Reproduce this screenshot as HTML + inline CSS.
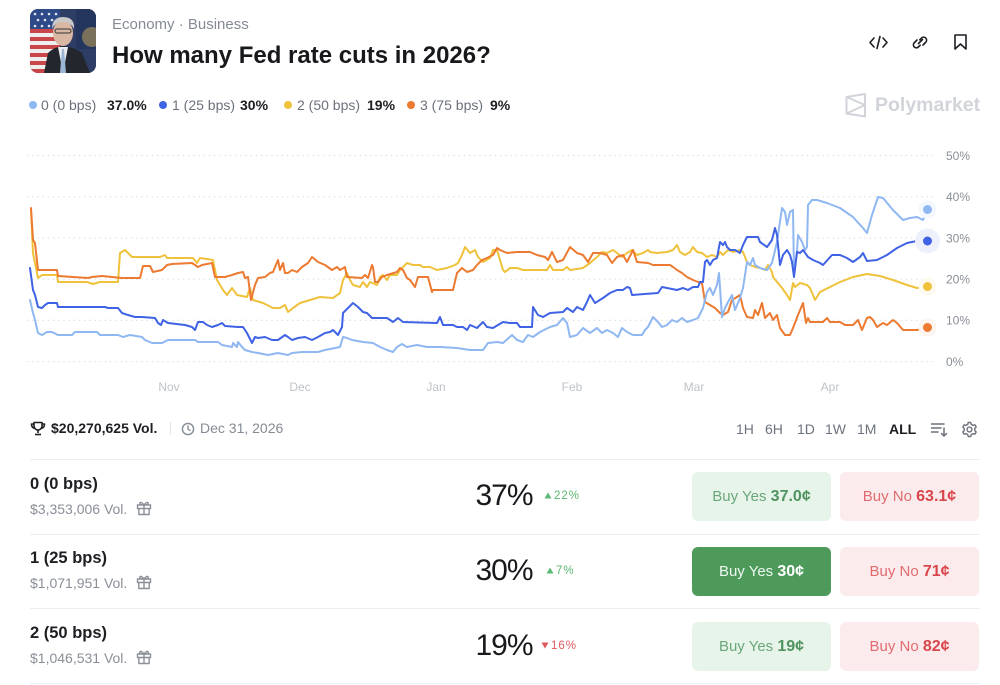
<!DOCTYPE html>
<html><head><meta charset="utf-8">
<style>
*{margin:0;padding:0;box-sizing:border-box}
body{width:1000px;height:685px;background:#fff;position:relative;overflow:hidden;font-family:"Liberation Sans",Arial,sans-serif;color:#1d1f23}
.a{position:absolute;white-space:nowrap}
.lg{font-size:14px;line-height:20px;top:95px;color:#6c727c}
.lv{font-size:14px;line-height:20px;top:95px;color:#1d1f23;font-weight:bold}
.dot{position:absolute;width:8px;height:8px;border-radius:50%;top:101px}
.tb{font-size:14px;line-height:20px;top:419px;color:#6c727c}
.sep{position:absolute;left:30px;width:950px;height:1px;background:#eceef1}
.rt{font-size:16.5px;line-height:22px;font-weight:bold;color:#1d1f23;left:30px}
.rv{font-size:14px;line-height:20px;color:#8a8f98;left:30px}
.rv svg{vertical-align:-2px;margin-left:9px}
.pc{font-size:30px;line-height:36px;color:#17191c;left:444px;width:120px;text-align:center;letter-spacing:-1px}
.ch{font-size:11.5px;line-height:16px;letter-spacing:1px}
.btn{position:absolute;width:139px;height:49px;border-radius:6px;text-align:center;line-height:49px;font-size:15px}
.btn b{font-size:16px}
.y{left:692px;background:#e7f4ea;color:#6aa77a}
.y b{color:#4f9360}
.ya{left:692px;background:#4d9a5b;color:#eef7f0}
.ya b{color:#fff}
.n{left:840px;background:#fcebec;color:#e06b70}
.n b{color:#d8464c}
</style></head><body>

<!-- avatar -->
<svg class="a" style="left:30px;top:9px" width="66" height="64" viewBox="0 0 66 64">
<defs><clipPath id="cp"><rect x="0" y="0" width="66" height="64" rx="8"/></clipPath></defs>
<g clip-path="url(#cp)">
<rect width="66" height="64" fill="#2d3d63"/>
<g fill="#c9474b"><rect x="0" y="20" width="30" height="4"/><rect x="0" y="28" width="30" height="4"/><rect x="0" y="36" width="30" height="4"/><rect x="0" y="44" width="30" height="4"/><rect x="0" y="52" width="30" height="4"/><rect x="0" y="60" width="30" height="4"/></g>
<g fill="#eee"><rect x="0" y="24" width="30" height="4"/><rect x="0" y="32" width="30" height="4"/><rect x="0" y="40" width="30" height="4"/><rect x="0" y="48" width="30" height="4"/><rect x="0" y="56" width="30" height="4"/></g>
<rect x="0" y="0" width="30" height="20" fill="#2f4a88"/>
<g fill="#dfe5f0"><circle cx="5" cy="5" r="1.3"/><circle cx="12" cy="5" r="1.3"/><circle cx="19" cy="5" r="1.3"/><circle cx="26" cy="5" r="1.3"/><circle cx="8" cy="11" r="1.3"/><circle cx="15" cy="11" r="1.3"/><circle cx="22" cy="11" r="1.3"/><circle cx="5" cy="17" r="1.3"/><circle cx="12" cy="17" r="1.3"/><circle cx="19" cy="17" r="1.3"/></g>
<rect x="46" y="0" width="20" height="40" fill="#24355e"/>
<circle cx="62" cy="28" r="10" fill="#b49a5a" opacity="0.6"/>
<path d="M14 64 L18 44 Q24 38 33 37 Q44 38 52 44 L60 64 Z" fill="#23262d"/>
<path d="M28 38 L33 64 L38 38 Z" fill="#e8ecf0"/>
<path d="M32 40 L30 64 L36 64 L34 40 Z" fill="#9bb6d4"/>
<ellipse cx="33" cy="24" rx="10" ry="13" fill="#d9b7a3"/>
<path d="M22 20 Q22 8 33 8 Q45 8 44 20 Q41 13 33 13 Q25 13 22 20 Z" fill="#c9c9c9"/>
<rect x="25" y="20" width="16" height="4" rx="2" fill="none" stroke="#333" stroke-width="1"/>
</g></svg>

<div class="a" style="left:112px;top:15px;font-size:15px;line-height:20px;color:#858b94">Economy · Business</div>
<div class="a" style="left:112px;top:41px;font-size:24px;line-height:30px;font-weight:bold;color:#16181b">How many Fed rate cuts in 2026?</div>

<!-- top icons -->
<svg class="a" style="left:860px;top:28px" width="120" height="30" viewBox="860 28 120 30">
<g fill="none" stroke="#1d1f23" stroke-width="1.6" stroke-linecap="round" stroke-linejoin="round">
<path d="M874 38 L870 42.5 L874 47"/><path d="M883 38 L887 42.5 L883 47"/><path d="M880 36.5 L877 48.5"/>
<path d="M917 40 l-3 3 a3 3 0 0 0 4.2 4.2 l2-2"/><path d="M923 45 l3-3 a3 3 0 0 0 -4.2 -4.2 l-2 2"/><path d="M918.5 43.5 l4-4" />
<path d="M955 35 H966 V49 L960.5 44 L955 49 Z"/>
</g></svg>

<!-- legend -->
<div class="dot" style="left:29px;background:#8fb7f2"></div>
<div class="a lg" style="left:41px">0 (0 bps)</div>
<div class="a lv" style="left:107px">37.0%</div>
<div class="dot" style="left:159px;background:#3f63e4"></div>
<div class="a lg" style="left:172px">1 (25 bps)</div>
<div class="a lv" style="left:240px">30%</div>
<div class="dot" style="left:284px;background:#f0c23b"></div>
<div class="a lg" style="left:297px">2 (50 bps)</div>
<div class="a lv" style="left:367px">19%</div>
<div class="dot" style="left:407px;background:#ec7a30"></div>
<div class="a lg" style="left:420px">3 (75 bps)</div>
<div class="a lv" style="left:490px">9%</div>

<!-- polymarket logo -->
<svg class="a" style="left:844px;top:92px" width="24" height="27" viewBox="844 92 24 27">
<g fill="none" stroke="#d1d4d9" stroke-width="2" stroke-linejoin="round">
<path d="M846.5 97 L865 94 L865 116.5 L846.5 113.5 Z"/><path d="M846.5 97 L865 105 L846.5 113.5"/>
</g></svg>
<div class="a" style="left:875px;top:93px;font-size:19.5px;line-height:24px;font-weight:bold;color:#d1d4d9">Polymarket</div>

<!-- chart -->
<svg class="a" style="left:0;top:0" width="1000" height="400" viewBox="0 0 1000 400">
<g stroke="#d9dcdf" stroke-width="1.2" stroke-dasharray="1.2 4">
<line x1="27" y1="155.5" x2="937" y2="155.5"/><line x1="27" y1="196.8" x2="937" y2="196.8"/><line x1="27" y1="238" x2="937" y2="238"/><line x1="27" y1="279.2" x2="937" y2="279.2"/><line x1="27" y1="320.4" x2="937" y2="320.4"/><line x1="27" y1="361.6" x2="937" y2="361.6"/>
</g>
<g font-family="Liberation Sans, Arial, sans-serif" font-size="12" fill="#8a8f98">
<text x="946" y="160">50%</text><text x="946" y="201">40%</text><text x="946" y="242.5">30%</text><text x="946" y="283.5">20%</text><text x="946" y="324.5">10%</text><text x="946" y="366">0%</text>
</g>
<g font-family="Liberation Sans, Arial, sans-serif" font-size="12" fill="#bfc3c8" text-anchor="middle">
<text x="169" y="391">Nov</text><text x="300" y="391">Dec</text><text x="436" y="391">Jan</text><text x="572" y="391">Feb</text><text x="694" y="391">Mar</text><text x="830" y="391">Apr</text>
</g>
<g fill="none" stroke-width="2" stroke-linejoin="round" stroke-linecap="round">
<polyline stroke="#f0c23b" points="31,210 33,253 38,278 42,275 57,275 58,282 87,282 93,284 100,282 118,282 120,253 125,250 132,257 160,257 165,255 167,258 193,258 197,263 200,258 213,260 217,280 223,290 227,295 232,288 237,295 247,297 250,288 253,300 263,303 273,308 280,308 285,305 288,312 293,308 300,303 310,300 320,297 333,298 340,293 343,280 347,273 350,280 353,285 360,287 363,282 367,287 370,282 377,285 380,277 383,275 387,280 390,275 397,275 400,270 407,263 413,265 420,265 423,267 430,267 437,270 447,268 455,265 458,263 462,255 465,247 470,253 475,250 478,257 483,262 490,258 493,250 497,250 503,270 505,272 510,268 517,268 523,270 547,270 550,265 553,270 563,270 567,267 570,270 583,268 590,263 597,257 602,252 607,253 613,250 617,253 622,257 627,253 632,250 637,255 643,253 648,250 650,252 657,253 667,252 673,250 677,245 680,252 685,255 690,252 693,247 697,252 702,253 707,257 712,255 717,257 720,252 723,255 728,250 733,252 740,250 743,252 747,262 750,265 755,267 760,268 765,270 768,265 772,272 773,277 777,282 782,288 787,295 790,300 793,283 795,287 800,283 807,285 810,288 813,295 815,300 820,292 830,287 840,282 853,277 867,274 880,276 893,280 907,285 917,288 927,287"/>
<polyline stroke="#ec7a30" points="31,208 33,240 35,243 38,270 57,270 58,276 88,278 92,277 102,276 112,277 122,278 140,278 143,266 150,266 153,272 162,270 167,265 172,264 192,263 198,267 202,265 212,263 215,277 225,277 232,275 238,273 243,272 245,278 248,277 251,300 255,285 258,278 265,277 270,273 273,272 278,260 280,270 283,263 285,273 288,273 292,270 297,272 302,267 308,263 312,257 318,262 325,265 332,270 337,267 340,270 345,267 347,277 362,278 365,275 368,278 372,265 373,267 375,282 378,282 382,277 387,275 397,272 400,268 403,270 407,278 410,280 415,287 418,277 428,277 432,292 433,290 453,290 457,273 462,268 467,272 473,270 477,265 482,260 487,258 493,255 497,248 500,250 507,253 517,252 530,252 537,255 545,257 548,260 552,252 557,262 563,260 570,247 577,253 583,255 588,262 593,253 600,253 607,255 612,263 617,257 623,255 627,262 633,250 637,262 648,263 653,265 670,265 673,267 677,270 682,273 687,277 693,280 698,282 702,283 705,302 710,305 715,308 720,313 723,315 728,312 732,300 737,297 740,295 743,308 747,317 753,318 755,310 758,315 762,303 765,318 770,313 773,320 777,315 780,328 785,335 790,335 793,328 798,315 803,303 806,323 808,318 810,322 823,322 827,318 830,322 840,322 845,325 853,325 858,320 862,330 867,318 870,317 873,320 877,327 883,323 887,325 893,320 897,323 903,330 917,330 927,328"/>
<polyline stroke="#8fb7f2" points="30,300 33,313 35,320 38,333 42,335 47,332 52,332 58,335 72,335 75,332 97,332 100,335 118,335 123,337 130,335 142,337 145,340 152,343 162,343 168,340 195,340 198,342 218,342 222,345 232,347 233,343 237,347 238,342 242,347 245,350 252,352 258,353 268,355 278,353 288,355 292,353 302,352 318,352 325,350 335,348 340,347 343,337 347,338 352,340 363,342 373,343 380,347 387,350 393,352 397,347 402,344 407,347 417,345 427,347 440,347 457,348 470,350 483,350 488,343 497,342 503,343 512,335 517,340 523,342 528,335 533,337 540,332 550,327 557,325 563,318 567,323 570,337 577,335 583,328 590,333 597,328 602,333 607,330 613,333 618,337 622,328 627,332 633,335 642,335 645,330 648,327 653,317 658,322 662,327 667,325 672,320 677,322 682,318 687,322 693,320 698,318 703,308 707,292 710,288 713,295 717,285 719,273 722,317 725,308 728,302 732,295 735,310 740,298 743,288 747,262 750,265 753,258 755,265 760,268 767,270 772,263 777,242 782,208 785,212 787,225 790,212 793,210 794,273 797,252 798,235 802,242 805,250 807,247 808,205 812,200 817,200 827,203 840,208 853,217 863,228 867,233 872,215 878,197 883,198 893,210 903,220 910,218 917,217 923,220 925,215 927,209"/>
<polyline stroke="#3f63e4" points="30,268 33,290 35,295 38,307 42,308 45,305 48,303 57,303 58,307 105,307 108,308 118,308 122,313 128,315 135,317 142,317 155,318 158,323 161,325 163,320 168,323 185,325 192,327 195,330 198,322 203,322 207,325 212,327 218,325 222,323 225,326 238,327 243,327 247,333 252,343 255,337 258,338 265,337 272,340 278,340 285,335 288,337 292,340 298,338 305,337 312,340 318,337 325,333 330,332 333,330 338,335 342,327 343,313 348,308 353,303 358,307 363,312 367,313 372,318 387,318 393,322 398,318 403,322 437,323 440,317 443,325 453,325 457,327 463,327 467,330 470,325 477,328 483,322 487,327 493,328 503,322 510,323 517,323 520,327 532,327 533,307 538,315 543,317 550,313 563,312 567,308 573,312 577,307 583,310 587,302 590,295 595,303 603,298 610,293 617,290 623,290 627,287 630,288 632,295 658,293 662,287 667,288 677,290 683,288 688,290 693,287 698,287 700,282 703,282 705,262 707,260 710,265 713,260 717,258 720,242 723,245 725,242 727,247 730,250 735,250 740,253 743,245 747,237 758,237 760,242 767,247 772,240 775,228 777,235 780,265 783,255 787,250 790,255 792,262 794,277 797,252 800,253 803,250 808,257 813,260 820,263 823,265 832,255 840,255 847,258 853,262 860,257 863,253 867,261 877,260 887,255 897,248 907,243 917,241 927,241"/>
</g>
<circle cx="927.5" cy="209.5" r="9" fill="#f3f7fe"/>
<circle cx="927.5" cy="241" r="12.5" fill="#eef1fb"/>
<circle cx="927.5" cy="286.5" r="9" fill="#fefaf0"/>
<circle cx="927.5" cy="327.5" r="9" fill="#fef5ef"/>
<circle cx="927.5" cy="209.5" r="4.5" fill="#8fb7f2"/>
<circle cx="927.5" cy="241" r="4.5" fill="#3f63e4"/>
<circle cx="927.5" cy="286.5" r="4.5" fill="#f0c23b"/>
<circle cx="927.5" cy="327.5" r="4.5" fill="#ec7a30"/>
</svg>

<!-- stats row -->
<svg class="a" style="left:30px;top:421px" width="16" height="15" viewBox="0 0 16 15">
<g fill="none" stroke="#1d1f23" stroke-width="1.6" stroke-linejoin="round">
<path d="M4 1.5 H12 V5 A4 4 0 0 1 4 5 Z"/><path d="M4 3 H1.5 Q1.5 7 5 7.5"/><path d="M12 3 H14.5 Q14.5 7 11 7.5"/><path d="M8 9 V12"/><path d="M5 13.5 H11"/>
</g></svg>
<div class="a" style="left:51px;top:418px;font-size:14px;line-height:20px;font-weight:bold;color:#1d1f23">$20,270,625 Vol.</div>
<div class="a" style="left:170px;top:422px;width:1px;height:13px;background:#e2e4e7"></div>
<svg class="a" style="left:181px;top:422px" width="14" height="14" viewBox="0 0 14 14">
<g fill="none" stroke="#858b94" stroke-width="1.4" stroke-linecap="round"><circle cx="7" cy="7" r="5.6"/><path d="M7 4 V7 L9 8.5"/></g></svg>
<div class="a" style="left:200px;top:418px;font-size:14px;line-height:20px;color:#858b94">Dec 31, 2026</div>

<div class="a tb" style="left:736px">1H</div>
<div class="a tb" style="left:765px">6H</div>
<div class="a tb" style="left:797px">1D</div>
<div class="a tb" style="left:825px">1W</div>
<div class="a tb" style="left:857px">1M</div>
<div class="a tb" style="left:889px;color:#1d1f23;font-weight:bold">ALL</div>
<svg class="a" style="left:930px;top:421px" width="18" height="17" viewBox="0 0 18 17">
<g fill="none" stroke="#6c727c" stroke-width="1.5" stroke-linecap="round"><path d="M1.5 3 H14"/><path d="M1.5 7 H11"/><path d="M1.5 11 H8"/><path d="M14 7 V15 M11.5 12.5 L14 15 L16.5 12.5"/></g></svg>
<svg class="a" style="left:961px;top:421px" width="17" height="17" viewBox="0 0 17 17">
<g fill="none" stroke="#6c727c" stroke-width="1.4"><circle cx="8.5" cy="8.5" r="2.4"/><path d="M7.2 1.5 H9.8 L10.3 3.4 L12 4.4 L13.9 3.8 L15.2 6 L13.8 7.4 V9.6 L15.2 11 L13.9 13.2 L12 12.6 L10.3 13.6 L9.8 15.5 H7.2 L6.7 13.6 L5 12.6 L3.1 13.2 L1.8 11 L3.2 9.6 V7.4 L1.8 6 L3.1 3.8 L5 4.4 L6.7 3.4 Z" stroke-linejoin="round"/></g></svg>

<!-- separators -->
<div class="sep" style="top:459px"></div>
<div class="sep" style="top:534px"></div>
<div class="sep" style="top:608px"></div>
<div class="sep" style="top:683px"></div>

<!-- row 1 -->
<div class="a rt" style="top:473px">0 (0 bps)</div>
<div class="a rv" style="top:499px">$3,353,006 Vol.<svg width="16" height="16" viewBox="0 0 16 16"><g fill="none" stroke="#8a8f98" stroke-width="1.4" stroke-linejoin="round"><rect x="1.5" y="5" width="13" height="3.5"/><path d="M2.8 8.5 V14.5 H13.2 V8.5"/><path d="M8 5 V14.5"/><path d="M8 5 Q5 1 3.8 3 Q3.5 5 8 5 Q12.5 5 12.2 3 Q11 1 8 5"/></g></svg></div>
<div class="a pc" style="top:478px">37%</div>
<div class="a ch" style="left:544px;top:488px;color:#5cb872"><svg width="8" height="7" viewBox="0 0 8 7" style="margin-right:2px"><path d="M4 0.5 L7.5 6.5 H0.5 Z" fill="#5cb872"/></svg>22%</div>
<div class="btn y" style="top:472px">Buy Yes <b>37.0¢</b></div>
<div class="btn n" style="top:472px">Buy No <b>63.1¢</b></div>

<!-- row 2 -->
<div class="a rt" style="top:547px">1 (25 bps)</div>
<div class="a rv" style="top:573px">$1,071,951 Vol.<svg width="16" height="16" viewBox="0 0 16 16"><g fill="none" stroke="#8a8f98" stroke-width="1.4" stroke-linejoin="round"><rect x="1.5" y="5" width="13" height="3.5"/><path d="M2.8 8.5 V14.5 H13.2 V8.5"/><path d="M8 5 V14.5"/><path d="M8 5 Q5 1 3.8 3 Q3.5 5 8 5 Q12.5 5 12.2 3 Q11 1 8 5"/></g></svg></div>
<div class="a pc" style="top:553px">30%</div>
<div class="a ch" style="left:546px;top:563px;color:#5cb872"><svg width="8" height="7" viewBox="0 0 8 7" style="margin-right:2px"><path d="M4 0.5 L7.5 6.5 H0.5 Z" fill="#5cb872"/></svg>7%</div>
<div class="btn ya" style="top:547px">Buy Yes <b>30¢</b></div>
<div class="btn n" style="top:547px">Buy No <b>71¢</b></div>

<!-- row 3 -->
<div class="a rt" style="top:622px">2 (50 bps)</div>
<div class="a rv" style="top:648px">$1,046,531 Vol.<svg width="16" height="16" viewBox="0 0 16 16"><g fill="none" stroke="#8a8f98" stroke-width="1.4" stroke-linejoin="round"><rect x="1.5" y="5" width="13" height="3.5"/><path d="M2.8 8.5 V14.5 H13.2 V8.5"/><path d="M8 5 V14.5"/><path d="M8 5 Q5 1 3.8 3 Q3.5 5 8 5 Q12.5 5 12.2 3 Q11 1 8 5"/></g></svg></div>
<div class="a pc" style="top:628px">19%</div>
<div class="a ch" style="left:541px;top:638px;color:#e0575b"><svg width="8" height="7" viewBox="0 0 8 7" style="margin-right:2px"><path d="M0.5 0.5 H7.5 L4 6.5 Z" fill="#e0575b"/></svg>16%</div>
<div class="btn y" style="top:622px">Buy Yes <b>19¢</b></div>
<div class="btn n" style="top:622px">Buy No <b>82¢</b></div>

</body></html>
